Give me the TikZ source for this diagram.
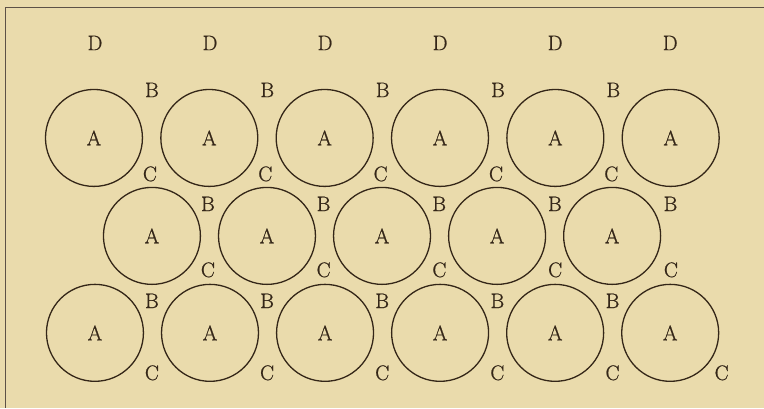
\documentclass[tikz,border=0pt]{standalone}
\usepackage{fontspec}
\newfontfamily\labfont{Latin Modern Roman}[FakeBold=0.8]
\definecolor{paper}{RGB}{234,219,172}
\definecolor{ink}{RGB}{52,38,24}
\begin{document}
\begin{tikzpicture}[x=1pt,y=-1pt,
  disc/.style={circle,draw=ink,line width=1.3pt,minimum size=97pt,inner sep=0pt,text=ink,font=\labfont\fontsize{21}{24}\selectfont},
  lab/.style={inner sep=0pt,text=ink,font=\labfont\fontsize{21}{24}\selectfont}]
\fill[paper] (0,0) rectangle (764,408);
\coordinate (fa) at (5,408);
\coordinate (fb) at (5,7);
\coordinate (fc) at (764,7);
\draw[ink!80,line width=0.7pt] (fa) -- (fb) -- (fc);
% row 1
\foreach \i in {0,...,5}{
  \node[disc] (ra\i) at ({94+115.4*\i},138) {A};
  \node[lab] (d\i) at ({95+115.1*\i},43) {D};
}
\foreach \i in {0,...,4}{
  \node[lab] (ba\i) at ({152+115.4*\i},90) {B};
  \node[lab] (ca\i) at ({150+115.4*\i},174) {C};
}
% row 2
\foreach \i in {0,...,4}{
  \node[disc] (rb\i) at ({152+115.1*\i},236) {A};
  \node[lab] (bb\i) at ({208+115.7*\i},204) {B};
  \node[lab] (cb\i) at ({208+115.8*\i},270) {C};
}
% row 3
\foreach \i in {0,...,5}{
  \node[disc] (rc\i) at ({95+115.1*\i},333) {A};
}
\foreach \i in {0,...,4}{
  \node[lab] (bc\i) at ({152+115.2*\i},301) {B};
  \node[lab] (cc\i) at ({152+115.2*\i},373) {C};
}
\node[lab] (cc5) at (722,373) {C};
\end{tikzpicture}
\end{document}
